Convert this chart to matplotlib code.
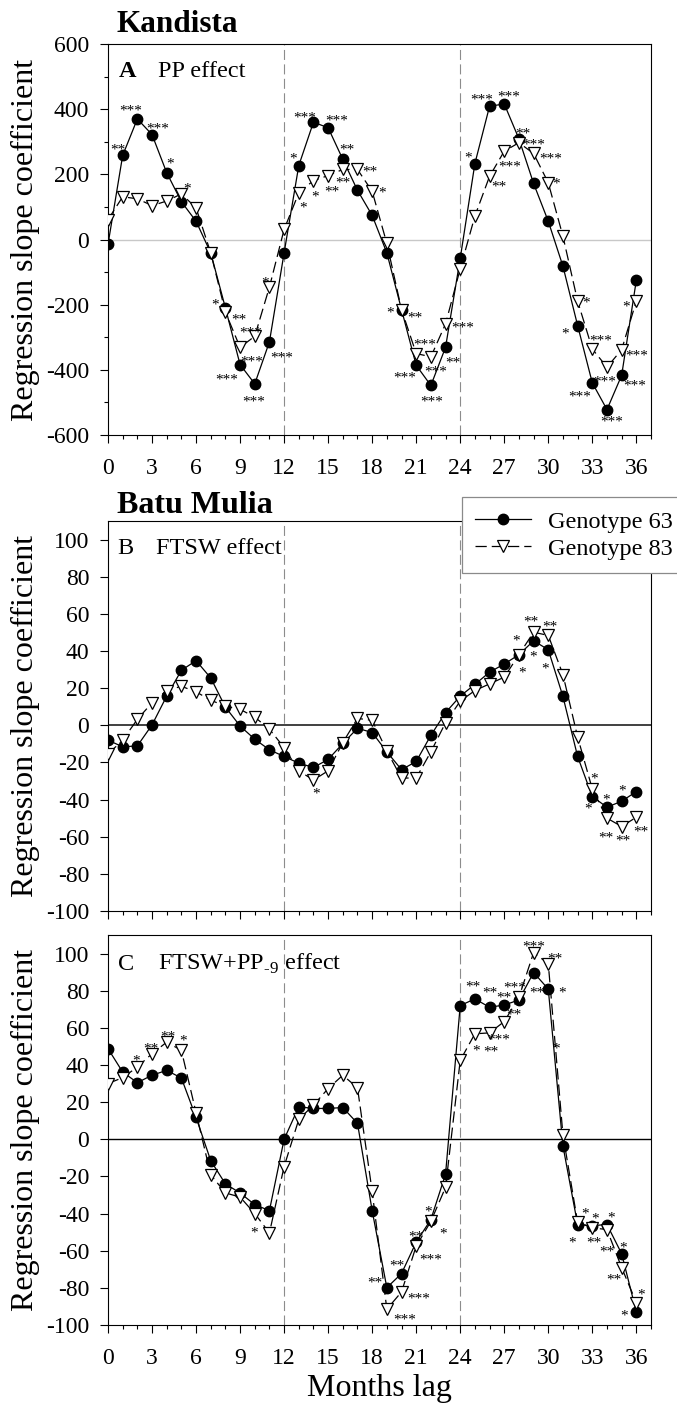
import matplotlib
matplotlib.use('Agg')
import matplotlib.pyplot as plt
from matplotlib.ticker import MultipleLocator

plt.rcParams['font.family'] = ['Liberation Serif', 'DejaVu Serif']
plt.rcParams['mathtext.fontset'] = 'custom'
plt.rcParams['mathtext.rm'] = 'Liberation Serif'
plt.rcParams['axes.unicode_minus'] = False

months = list(range(37))

# A: Kandista, PP effect
a_g63 = [-15, 258, 370, 322, 205, 116, 56, -41, -210, -384, -443, -314, -41,
         227, 360, 343, 246, 151, 74, -41, -215, -386, -448, -331, -58,
         233, 409, 416, 309, 172, 56, -82, -264, -440, -522, -417, -125]
a_g83 = [61, 131, 125, 104, 118, 140, 97, -41, -223, -331, -297, -146, 31,
         143, 181, 196, 215, 215, 148, -12, -215, -350, -360, -259, -90,
         72, 194, 271, 297, 264, 174, 10, -189, -336, -392, -338, -189]

# B: Batu Mulia, FTSW effect
b_g63 = [-8, -11.6, -11.1, 0.2, 15.7, 29.6, 34.8, 25.5, 9.8, -0.4, -7.5, -13.2, -16.8,
         -20.4, -22.7, -18.4, -9.8, -1.6, -3.9, -14.3, -23.9, -19.5, -5.4, 6.8, 15.7,
         22.0, 28.6, 33.0, 38.0, 45.5, 40.7, 15.5, -16.8, -38.4, -44.1, -40.9, -35.7]
b_g83 = [-15.5, -8.0, 3.2, 12.1, 18.7, 21.0, 18.0, 13.5, 10.3, 8.6, 4.4, -2.1, -12.0,
         -24.5, -29.5, -24.5, -9.3, 3.7, 2.7, -13.8, -28.4, -28.4, -14.3, 1.4, 13.0,
         18.7, 22.3, 25.9, 38.0, 50.1, 48.4, 27.3, -6.3, -34.3, -50.0, -54.5, -49.5]

# C: Batu Mulia, FTSW+PP-9 effect
c_g63 = [48.8, 36.2, 30.5, 34.5, 37.1, 33.0, 11.8, -11.5, -24.0, -28.9, -35.2, -38.4, 0,
         17.5, 16.6, 16.6, 17.1, 8.6, -38.4, -79.9, -72.3, -55.4, -43.2, -18.8, 72.0,
         75.6, 71.1, 72.3, 75.0, 89.8, 80.9, -3.6, -45.9, -46.5, -45.9, -61.6, -92.9]
c_g83 = [30.0, 33.2, 38.9, 46.1, 52.3, 47.9, 14.3, -19.1, -28.9, -31.1, -40.0, -50.4, -14.7,
         10.7, 18.4, 27.3, 34.5, 27.7, -28.1, -91.5, -82.2, -57.5, -44.2, -25.9, 42.5,
         56.8, 57.3, 63.4, 76.4, 100.5, 94.6, 2.3, -44.7, -47.7, -48.6, -69.1, -87.9]

# significance marks: (genotype, month, stars, dx, dy) offsets in points from the point
a_sig = [(63, 1, '**', -3.7, 6.8), (63, 2, '***', -5, 8.7), (63, 3, '***', 4.2, 6.6),
         (63, 4, '*', 2.5, 8.9), (83, 5, '*', 4.4, 6.3), (63, 8, '*', -7.4, 4.9),
         (83, 8, '**', 9.4, -2.8), (83, 10, '***', -2.9, 4.9), (83, 11, '*', -3.2, 5.4),
         (83, 9, '***', 8.5, -8.2), (63, 11, '***', 8.5, -9.1), (63, 9, '***', -10, -8.4),
         (63, 10, '***', -1.1, -10.1), (63, 13, '*', -3.9, 7.5), (63, 14, '***', -6, 5.6),
         (83, 13, '*', 2.9, -8.4), (83, 14, '*', 1.1, -8.9), (83, 15, '**', 2.6, -9.4),
         (63, 15, '***', 6.3, 7.2), (63, 16, '**', 3.2, 9.6), (83, 16, '**', 0.4, -7.3),
         (83, 17, '**', 9, 0.5), (83, 18, '*', 6.9, 1.4), (83, 20, '*', -8.5, 0),
         (83, 20, '**', 9.5, -3.5), (83, 21, '***', 6.3, 8.9), (83, 23, '***', 12.7, -0.5),
         (83, 22, '***', 3.2, -8.4), (63, 23, '**', 5.3, -8.7), (63, 21, '***', -8.5, -6.6),
         (63, 22, '***', 0.6, -8.9), (63, 25, '*', -4.8, 6.6), (63, 26, '***', -5.7, 6.8),
         (63, 27, '***', 3.2, 7.3), (63, 28, '**', 3.2, 6.3), (83, 28, '***', 10.6, 1.2),
         (83, 27, '***', 4.2, -8.4), (83, 26, '**', 7, -5.2), (83, 29, '***', 12.2, -1.4),
         (83, 30, '*', 5.9, 1.9), (83, 32, '*', 6.3, 1.2), (63, 32, '*', -9, -3.5),
         (83, 33, '***', 5.9, 8.7), (83, 35, '***', 10.6, -1.6), (83, 34, '***', -1.6, -7.7),
         (63, 33, '***', -9, -7.3), (63, 35, '***', 9.5, -4.9), (63, 34, '***', 3.2, -6.6),
         (83, 36, '*', -7.6, -1.6)]
b_sig = [(83, 14, '*', 1.6, -7.4), (83, 28, '*', -2.1, 12.5), (83, 29, '**', -1.6, 10.1),
         (83, 30, '**', 1.1, 8.9), (63, 29, '*', -0.5, -8.9), (83, 28, '*', 2.1, -10.8),
         (63, 30, '*', -2.1, -11.6), (83, 33, '*', 1.1, 9.5), (63, 33, '*', -3.2, -6.5),
         (63, 34, '*', -0.5, 7.7), (63, 35, '*', 0.5, 9.7), (83, 34, '**', -1.1, -11.8),
         (83, 35, '**', 1.1, -7.7), (83, 36, '**', 3.2, -8.3)]
c_sig = [(83, 2, '*', -0.7, 6.7), (83, 3, '**', -0.5, 5.9), (83, 4, '**', 1.1, 6.5),
         (83, 5, '*', 1.1, 9.1), (83, 10, '*', -0.5, -11.6), (63, 25, '**', -1.6, 11.2),
         (63, 26, '**', 0.5, 13.2), (63, 28, '***', -3.2, 11.4), (63, 27, '**', 0.0, 7.4),
         (63, 29, '**', 2.1, -12), (63, 30, '*', 10, 0), (83, 28, '**', -3.7, -10.1),
         (83, 27, '***', -4.2, -10.8), (83, 25, '*', 1.1, -9.7), (83, 26, '**', 1.1, -10.8),
         (83, 29, '***', 0, 6.6), (83, 30, '**', 4.8, 6), (83, 30, '*', 5.3, -59),
         (63, 19, '**', -8.5, 6), (63, 20, '**', -3.2, 8.3), (83, 20, '***', 12.7, -2.2),
         (83, 19, '***', 12.7, -4.8), (63, 21, '**', 0, 6.7), (63, 22, '*', -2.1, 8.3),
         (83, 22, '*', 8.5, -6.5), (83, 21, '***', 10.6, -7.7), (83, 32, '*', 5.3, 8.6),
         (63, 33, '*', 2.1, 7.3), (63, 34, '*', 3.2, 7.1), (63, 32, '*', -4.2, -10.3),
         (83, 33, '**', 1.1, -7.9), (63, 35, '**', -10.6, 3.5), (63, 35, '*', 1.1, 6.7),
         (83, 35, '**', -5.3, -6), (83, 36, '*', 3.2, 7.9), (63, 36, '*', -8.5, -0.4)]

W, H = 677, 1410
fig = plt.figure(figsize=(W / 100, H / 100), dpi=100)


def add_ax(left, top, right, bottom):
    return fig.add_axes([left / W, 1 - bottom / H, (right - left) / W, (bottom - top) / H])


def fig_text(x, y, s, **kw):
    fig.text(x / W, 1 - y / H, s, va='baseline', ha='left', **kw)


def setup(ax, ylim, step, minor=None, zero_color='black', zero_lw=1.0):
    ax.set_xlim(0, 37)
    ax.set_ylim(*ylim)
    ax.xaxis.set_major_locator(MultipleLocator(3))
    ax.xaxis.set_minor_locator(MultipleLocator(1))
    ax.yaxis.set_major_locator(MultipleLocator(step))
    if minor:
        ax.yaxis.set_minor_locator(MultipleLocator(minor))
    ax.tick_params(which='both', direction='out', top=False, right=False,
                   labelsize=17, width=0.8, pad=7.5)
    ax.tick_params(axis='x', which='both', pad=10.5)
    ax.tick_params(which='major', length=6)
    ax.tick_params(which='minor', length=3)
    for sp in ax.spines.values():
        sp.set_linewidth(0.8)
    ax.axhline(0, color=zero_color, lw=zero_lw, zorder=1)
    for m in (12, 24):
        ax.axvline(m, color='#8c8c8c', lw=0.8, dashes=(9, 4), zorder=1)
    ax.text(-0.152, 0.5, 'Regression slope coefficient', transform=ax.transAxes,
            rotation=90, ha='center', va='center', fontsize=23)


def draw(ax, g63, g83, sig):
    l63, = ax.plot(months, g63, color='black', lw=0.9, marker='o', ms=7.5,
                   mfc='black', mec='black', zorder=3, label='Genotype 63')
    l83, = ax.plot(months, g83, color='black', lw=0.9, dashes=(9, 4), marker='v',
                   ms=8, mfc='white', mec='black', mew=0.9, zorder=4, label='Genotype 83')
    for geno, m, s, dx, dy in sig:
        y = g63[m] if geno == 63 else g83[m]
        ax.annotate(s, (m, y), xytext=(dx, dy - 5.2), textcoords='offset points',
                    ha='center', va='baseline', fontsize=11, zorder=6)
    return l63, l83


ax_a = add_ax(108, 44, 651, 435)
ax_b = add_ax(108, 521, 651, 911)
ax_c = add_ax(108, 935, 651, 1325)

setup(ax_a, (-600, 600), 200, minor=100, zero_color='#c8c8c8', zero_lw=1.0)
setup(ax_b, (-100, 110), 20, zero_color='#404040', zero_lw=1.4)
setup(ax_c, (-100, 110), 20, zero_color='black', zero_lw=1.0)
ax_b.tick_params(labelbottom=False)

draw(ax_a, a_g63, a_g83, a_sig)
handles = draw(ax_b, b_g63, b_g83, b_sig)
draw(ax_c, c_g63, c_g83, c_sig)

ax_c.set_xlabel('Months lag', fontsize=23, labelpad=4)

fig_text(117, 31.5, 'Kandista', fontsize=22.5, fontweight='bold')
fig_text(119, 77, 'A', fontsize=17.5, fontweight='bold')
fig_text(158, 77, 'PP effect', fontsize=17.5)
fig_text(117, 513, 'Batu Mulia', fontsize=23, fontweight='bold')
fig_text(117, 554, 'B', fontsize=17.5)
fig_text(156, 554, 'FTSW effect', fontsize=17.5)
fig_text(118, 970, 'C', fontsize=17.5)
fig_text(158, 970, 'FTSW+PP$_{\\mathregular{\u20109}}$ effect', fontsize=17.5)

leg = fig.legend(handles, ['Genotype 63', 'Genotype 83'], loc='upper left',
                 bbox_to_anchor=(461.7 / W, 1 - 497.3 / H), borderaxespad=0,
                 fontsize=17.5, frameon=True, fancybox=False, framealpha=1,
                 edgecolor='#8a8a8a', handlelength=2.3, handletextpad=0.7,
                 labelspacing=0.2, borderpad=0.55)
leg.get_frame().set_linewidth(0.9)

fig.savefig('out.png', dpi=100, facecolor='white')
